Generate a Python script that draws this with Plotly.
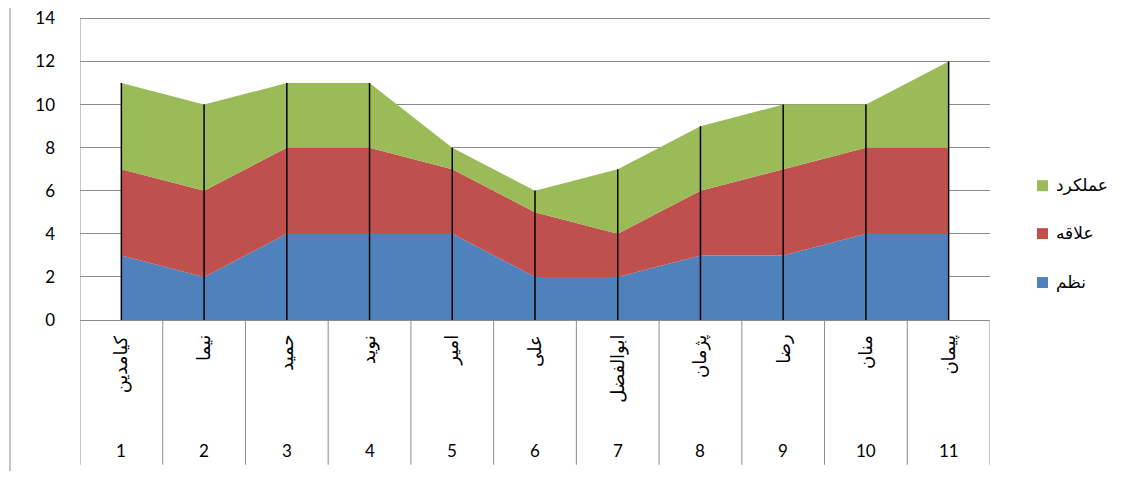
import plotly.graph_objects as go

numbers = ["1", "2", "3", "4", "5", "6", "7", "8", "9", "10", "11"]
names = ["کیامدین", "نیما", "حمید", "نوید", "امیر", "علی", "ابوالفضل", "پژمان", "رضا", "منان", "پیمان"]
nazm = [3, 2, 4, 4, 4, 2, 2, 3, 3, 4, 4]
alaghe = [4, 4, 4, 4, 3, 3, 2, 3, 4, 4, 4]
amalkard = [4, 4, 3, 3, 1, 1, 3, 3, 3, 2, 4]
series_names = ["نظم", "علاقه", "عملکرد"]
colors = ["#4F81BD", "#C0504D", "#9BBB59"]
y_ticks = [0, 2, 4, 6, 8, 10, 12, 14]

O = 8  # page body margin offset
YMAX, YPAD = 14, 14.3
L, R, B = 80 - O, 990 - O, 320 - O
ph = (320 - 18) * YPAD / YMAX
T = B - ph
W, H = 1140 - 2 * O, 479 - 2 * O
pw = R - L
def py(p):
    return (B - (p - O)) / ph
def px(p):
    return ((p - O) - L) / pw

xs = list(range(1, len(numbers) + 1))
fig = go.Figure()
for i, (vals, nm, col) in enumerate(zip([nazm, alaghe, amalkard], series_names, colors)):
    fig.add_trace(go.Scatter(
        x=xs, y=vals, name=nm, stackgroup="one", mode="none",
        fillcolor=col, line=dict(width=0), showlegend=False,
        hoverinfo="skip"))

totals = [a + b + c for a, b, c in zip(nazm, alaghe, amalkard)]
dx, dy = [], []
for x, t in zip(xs, totals):
    dx += [x, x, None]
    dy += [0, t, None]
fig.add_trace(go.Scatter(x=dx, y=dy, mode="lines", line=dict(color="black", width=1.5),
                         showlegend=False, hoverinfo="skip"))

grid_col = "#8C8C8C"
shapes = []
bottom = py(465)
for k in range(len(numbers) + 1):
    shapes.append(dict(type="line", xref="x", yref="paper", x0=k + 0.5, x1=k + 0.5,
                       y0=bottom, y1=0 if k > 0 else py(18), line=dict(color=grid_col, width=1)))
shapes.append(dict(type="line", xref="paper", yref="paper", x0=px(10), x1=px(10),
                   y0=py(479), y1=py(0), line=dict(color=grid_col, width=1)))

annotations = []
for x, nm, num in zip(xs, names, numbers):
    annotations.append(dict(x=x, y=py(333), xref="x", yref="paper", text=nm, textangle=-90,
                            showarrow=False, yanchor="top", xanchor="center",
                            font=dict(family="DejaVu Sans", size=18, color="black")))
    annotations.append(dict(x=x, y=py(451), xref="x", yref="paper", text=num,
                            showarrow=False, yanchor="middle", xanchor="center",
                            font=dict(family="Lato", size=17, color="black")))

# legend (green on top, then red, then blue)
leg_y = [282, 233, 185]
for nm, col, yy in zip(series_names, colors, leg_y):
    shapes.append(dict(type="rect", xref="paper", yref="paper",
                       x0=px(1037), x1=px(1048), y0=py(yy + 6), y1=py(yy - 5),
                       fillcolor=col, line=dict(width=0)))
    annotations.append(dict(x=px(1054), y=py(yy), xref="paper", yref="paper", text=nm,
                            showarrow=False, xanchor="left", yanchor="middle",
                            font=dict(family="DejaVu Sans", size=17, color="black")))

fig.update_layout(
    width=W, height=H,
    margin=dict(l=L, r=W - R, t=T, b=H - B, pad=0, autoexpand=False),
    plot_bgcolor="white", paper_bgcolor="white",
    xaxis=dict(range=[0.5, len(numbers) + 0.5], showticklabels=False, showgrid=False,
               zeroline=False, showline=True, linecolor=grid_col, linewidth=1, ticks=""),
    yaxis=dict(range=[0, YPAD], tickvals=y_ticks, ticktext=[str(v) for v in y_ticks],
               showgrid=True, gridcolor=grid_col, gridwidth=1,
               zeroline=False, showline=False, ticks="", ticklabelstandoff=24,
               ticklabeloverflow="allow",
               tickfont=dict(family="Lato", size=17, color="black")),
    shapes=shapes, annotations=annotations, showlegend=False,
)
fig.write_html("out.html")
